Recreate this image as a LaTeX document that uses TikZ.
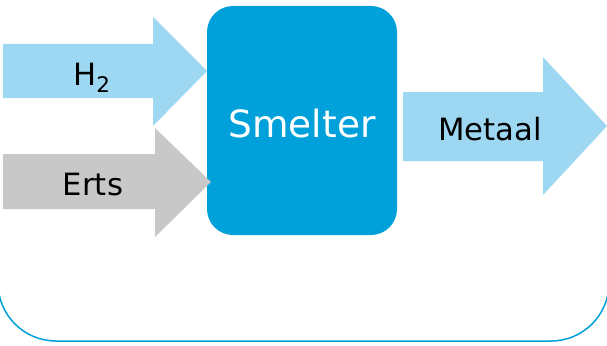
\documentclass[tikz,border=0pt]{standalone}
\usepackage{fontspec}
\setmainfont{DejaVu Sans}
\definecolor{flowblue}{HTML}{9DD7F1}
\definecolor{oregray}{HTML}{C8C8C8}
\definecolor{smeltblue}{HTML}{00A1DA}

\begin{document}
\begin{tikzpicture}[x=1pt, y=-1pt,
  flowlabel/.style={font=\fontsize{30.7}{36}\selectfont, text=black, inner sep=0pt, anchor=base}]
  \useasboundingbox (0,0) rectangle (607,345);

  % Frame around the process (only its lower part is seen)
  \begin{scope}
    \clip (0,0) rectangle (607,345);
    \draw[smeltblue, line width=1.5pt, rounded corners=58pt] (-2,-300) rectangle (609,341);
  \end{scope}

  % Smelter block
  \node[fill=smeltblue, rounded corners=26pt, minimum width=190pt, minimum height=229pt,
        inner sep=0pt] (smelter) at (302,120.5) {};
  \node[font=\fontsize{37.5}{44}\selectfont, text=white, inner sep=0pt, anchor=base]
        (smeltertext) at (302,137) {Smelter};

  % Hydrogen feed
  \fill[flowblue] (3,44) -- (153,44) -- (153,17) -- (207,71) -- (153,126) -- (153,98) -- (3,98) -- cycle;
  \node[flowlabel] (h2) at (92,85) {H\textsubscript{2}};

  % Ore feed
  \fill[oregray] (3,154) -- (155,154) -- (155,128) -- (211,182) -- (155,237) -- (155,209) -- (3,209) -- cycle;
  \node[flowlabel] (erts) at (93,195) {Erts};

  % Metal product
  \fill[flowblue] (403,92) -- (543,92) -- (543,57) -- (607,126) -- (543,195) -- (543,161) -- (403,161) -- cycle;
  \node[flowlabel] (metaal) at (490,140) {Metaal};
\end{tikzpicture}
\end{document}
